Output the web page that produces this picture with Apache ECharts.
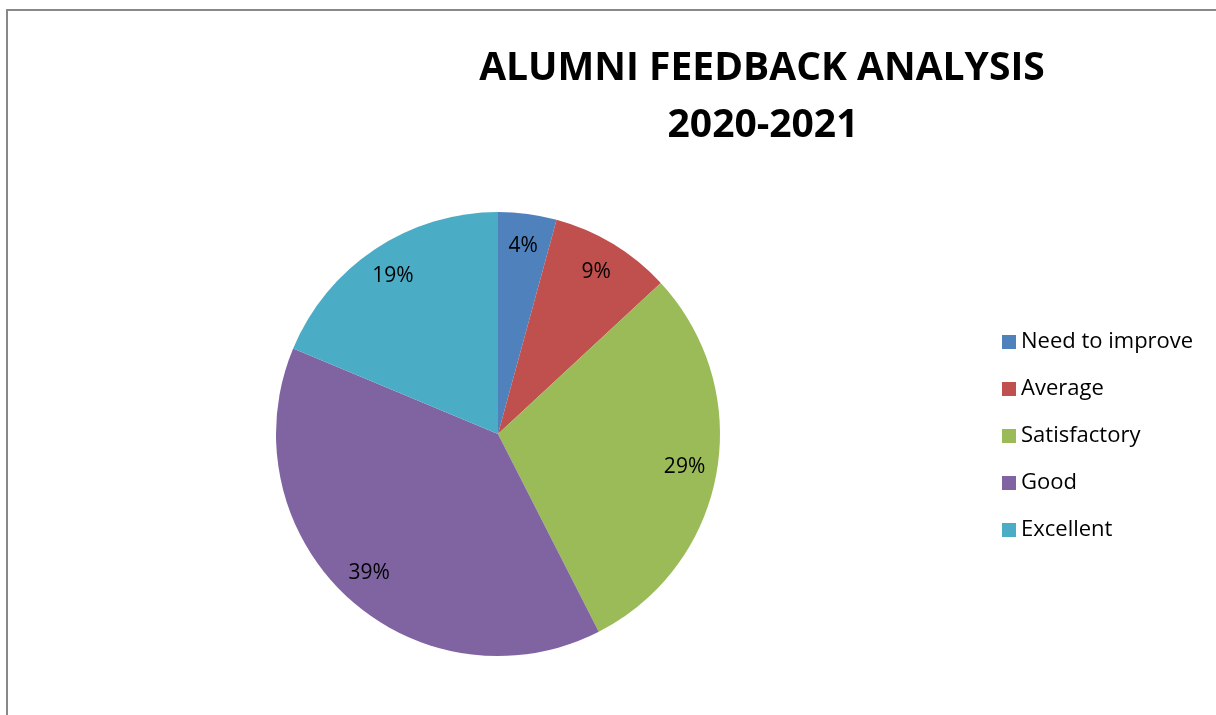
<!DOCTYPE html>
<html><head><meta charset="utf-8">
<script src="https://cdn.jsdelivr.net/npm/echarts@6/dist/echarts.min.js"></script>
<style>html,body{margin:0;padding:0;background:#fff}#c{width:1216px;height:715px}</style>
</head><body><div id="c"></div>
<script>
const categories = ['Need to improve', 'Average', 'Satisfactory', 'Good', 'Excellent'];
const values = [4.25, 8.85, 29.4, 38.8, 18.7];
const colors = ['#4F81BD', '#C0504D', '#9BBB59', '#8064A2', '#4BACC6'];
const titleLines = ['ALUMNI FEEDBACK ANALYSIS', '2020-2021'];

const R = 222, C = [498, 434];
const font = "'Open Sans', sans-serif";
const data = categories.map((n, i) => ({ name: n, value: values[i], itemStyle: { color: colors[i] } }));
const chart = echarts.init(document.getElementById('c'));
chart.setOption({
  animation: false,
  backgroundColor: '#fff',
  title: [
    { text: titleLines[0], left: 757, top: 44, textAlign: 'center', textStyle: { fontFamily: font, fontWeight: 'bold', fontSize: 39, color: '#000' } },
    { text: titleLines[1], left: 758, top: 101, textAlign: 'center', textStyle: { fontFamily: font, fontWeight: 'bold', fontSize: 39, color: '#000' } }
  ],
  graphic: [{ type: 'rect', shape: { x: 7, y: 10, width: 1300, height: 800 }, style: { fill: 'none', stroke: '#888', lineWidth: 2 }, silent: true }],
  legend: {
    orient: 'vertical', left: 997, top: 326, itemWidth: 14, itemHeight: 14, itemGap: 25, icon: 'rect',
    data: categories,
    textStyle: { fontFamily: font, fontSize: 22, color: '#000' }
  },
  series: [
    { type: 'pie', center: C, radius: [0, R], startAngle: 90, clockwise: true, percentPrecision: 0,
      data: data, label: { show: false }, labelLine: { show: false }, emphasis: { disabled: true } },
    { type: 'pie', center: C, radius: [R * 0.68, R], startAngle: 90, clockwise: true, percentPrecision: 0, silent: true,
      data: data.map(d => ({ name: d.name, value: d.value, itemStyle: { color: 'rgba(0,0,0,0)' } })),
      label: { show: true, position: 'inside', formatter: '{d}%', fontFamily: font, fontSize: 21, color: '#000' },
      labelLine: { show: false }, emphasis: { disabled: true } }
  ]
});
</script></body></html>
